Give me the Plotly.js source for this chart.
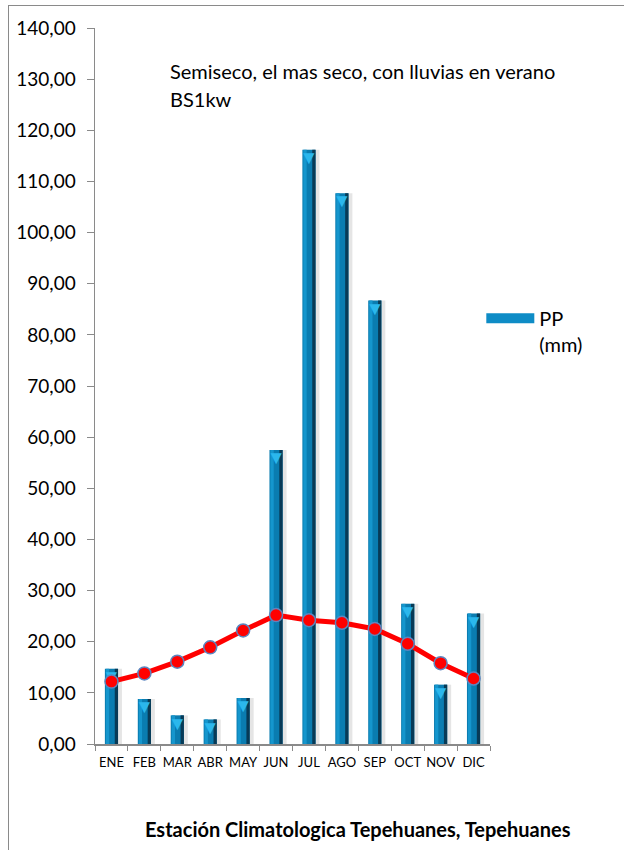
<!DOCTYPE html>
<html>
<head>
<meta charset="utf-8">
<script src="https://cdn.plot.ly/plotly-3.0.1.min.js"></script>
<style>
  html, body { margin: 0; padding: 0; background: #fff; overflow: hidden; }
  #wrap { position: relative; width: 624px; height: 850px; }
  #chart { width: 624px; height: 850px; }
  #frame { position: absolute; left: 8px; top: 5px; width: 700px; height: 900px;
           border: 1.5px solid #8a8a8a; pointer-events: none; }
</style>
</head>
<body>
<div id="wrap">
  <div id="chart"></div>
  <div id="frame"></div>
</div>
<script>
// Monthly precipitation (mm) and mean temperature (°C), Tepehuanes station
const months = ["ENE", "FEB", "MAR", "ABR", "MAY", "JUN", "JUL", "AGO", "SEP", "OCT", "NOV", "DIC"];
const precip = [14.7, 8.8, 5.6, 4.8, 9.0, 57.5, 116.2, 107.7, 86.7, 27.4, 11.6, 25.5];
const temp = [12.2, 13.8, 16.1, 18.9, 22.2, 25.2, 24.2, 23.7, 22.5, 19.6, 15.8, 12.8];

const yTicks = [0, 10, 20, 30, 40, 50, 60, 70, 80, 90, 100, 110, 120, 130, 140];

const font = "Lato, 'Open Sans', sans-serif";
const n = months.length;
const fill = v => months.map(() => v);
const barBlue = "#0a7cb0";

// Bevelled bar look built from stacked layers of the same values
const shadow = {
  type: "bar", x: months, y: precip, width: fill(0.46), offset: fill(-0.14),
  marker: { color: "rgba(0,0,0,0.10)", line: { width: 0 } },
  showlegend: false, hoverinfo: "skip"
};
const bars = {
  type: "bar", x: months, y: precip, name: "PP (mm)",
  width: fill(0.4), offset: fill(-0.2),
  marker: { color: barBlue, line: { width: 0 } },
  showlegend: false
};
const barLight = {
  type: "bar", x: months, y: precip, width: fill(0.1), offset: fill(-0.17),
  marker: { color: "#1596cd", line: { width: 0 } },
  showlegend: false, hoverinfo: "skip"
};
const barDark = {
  type: "bar", x: months, y: precip, width: fill(0.1), offset: fill(0.1),
  marker: { color: "#083a56", line: { width: 0 } },
  showlegend: false, hoverinfo: "skip"
};
const barCap = {
  type: "scatter", mode: "text", x: months, y: precip,
  text: fill("▼"), textposition: "bottom center",
  textfont: { color: "#2bb7ec", size: 19 },
  showlegend: false, hoverinfo: "skip", cliponaxis: false
};

// Legend key for the precipitation series: a wide bar-coloured band
const legendKey = {
  type: "scatter", mode: "lines", x: [null], y: [null], name: "PP<br>(mm)",
  line: { color: "#0e8cc6", width: 11 }, hoverinfo: "skip"
};

const tempLine = {
  type: "scatter", mode: "lines+markers", x: months, y: temp,
  line: { color: "#ff0000", width: 5 },
  marker: { color: "#ff0000", size: 13, line: { color: "#5b86c0", width: 1.5 } },
  showlegend: false
};

const layout = {
  width: 624, height: 850,
  margin: { l: 95, r: 134, t: 28, b: 106 },
  paper_bgcolor: "#ffffff", plot_bgcolor: "#ffffff",
  separators: ",.",
  barmode: "overlay",
  font: { family: font, color: "#000" },
  xaxis: {
    type: "category", categoryorder: "array", categoryarray: months,
    showline: true, linecolor: "#8a8a8a", linewidth: 1.5,
    ticks: "outside", tickson: "boundaries", ticklen: 5, tickcolor: "#8a8a8a",
    ticklabelstandoff: 6, tickangle: 0, tickfont: { size: 13, family: font },
    showgrid: false, zeroline: false, range: [-0.5, n - 0.5]
  },
  yaxis: {
    range: [0, 140], tickvals: yTicks, tickformat: ".2f",
    showline: true, linecolor: "#8a8a8a", linewidth: 1.5,
    ticks: "outside", ticklen: 7, tickcolor: "#8a8a8a", ticklabelstandoff: 7,
    tickfont: { size: 19, family: font }, showgrid: false, zeroline: false
  },
  legend: {
    x: 0.978, xanchor: "left", y: 0.622, yanchor: "top", valign: "top",
    itemwidth: 48, font: { size: 20, family: font }, bgcolor: "rgba(0,0,0,0)"
  },
  annotations: [
    { xref: "paper", yref: "paper", x: 0.185, y: 0.9405, xanchor: "left", yanchor: "middle",
      text: "Semiseco, el mas seco, con lluvias en verano", showarrow: false,
      font: { size: 20, family: font } },
    { xref: "paper", yref: "paper", x: 0.185, y: 0.901, xanchor: "left", yanchor: "middle",
      text: "BS1kw", showarrow: false, font: { size: 20, family: font } },
    { xref: "paper", yref: "paper", x: 0.666, y: -0.119, xanchor: "center", yanchor: "middle",
      text: "<b>Estación Climatologica Tepehuanes, Tepehuanes</b>", showarrow: false,
      font: { size: 20, family: font } }
  ]
};

Plotly.newPlot("chart", [shadow, bars, barLight, barDark, barCap, tempLine, legendKey], layout,
  { staticPlot: true, displayModeBar: false });
</script>
</body>
</html>
